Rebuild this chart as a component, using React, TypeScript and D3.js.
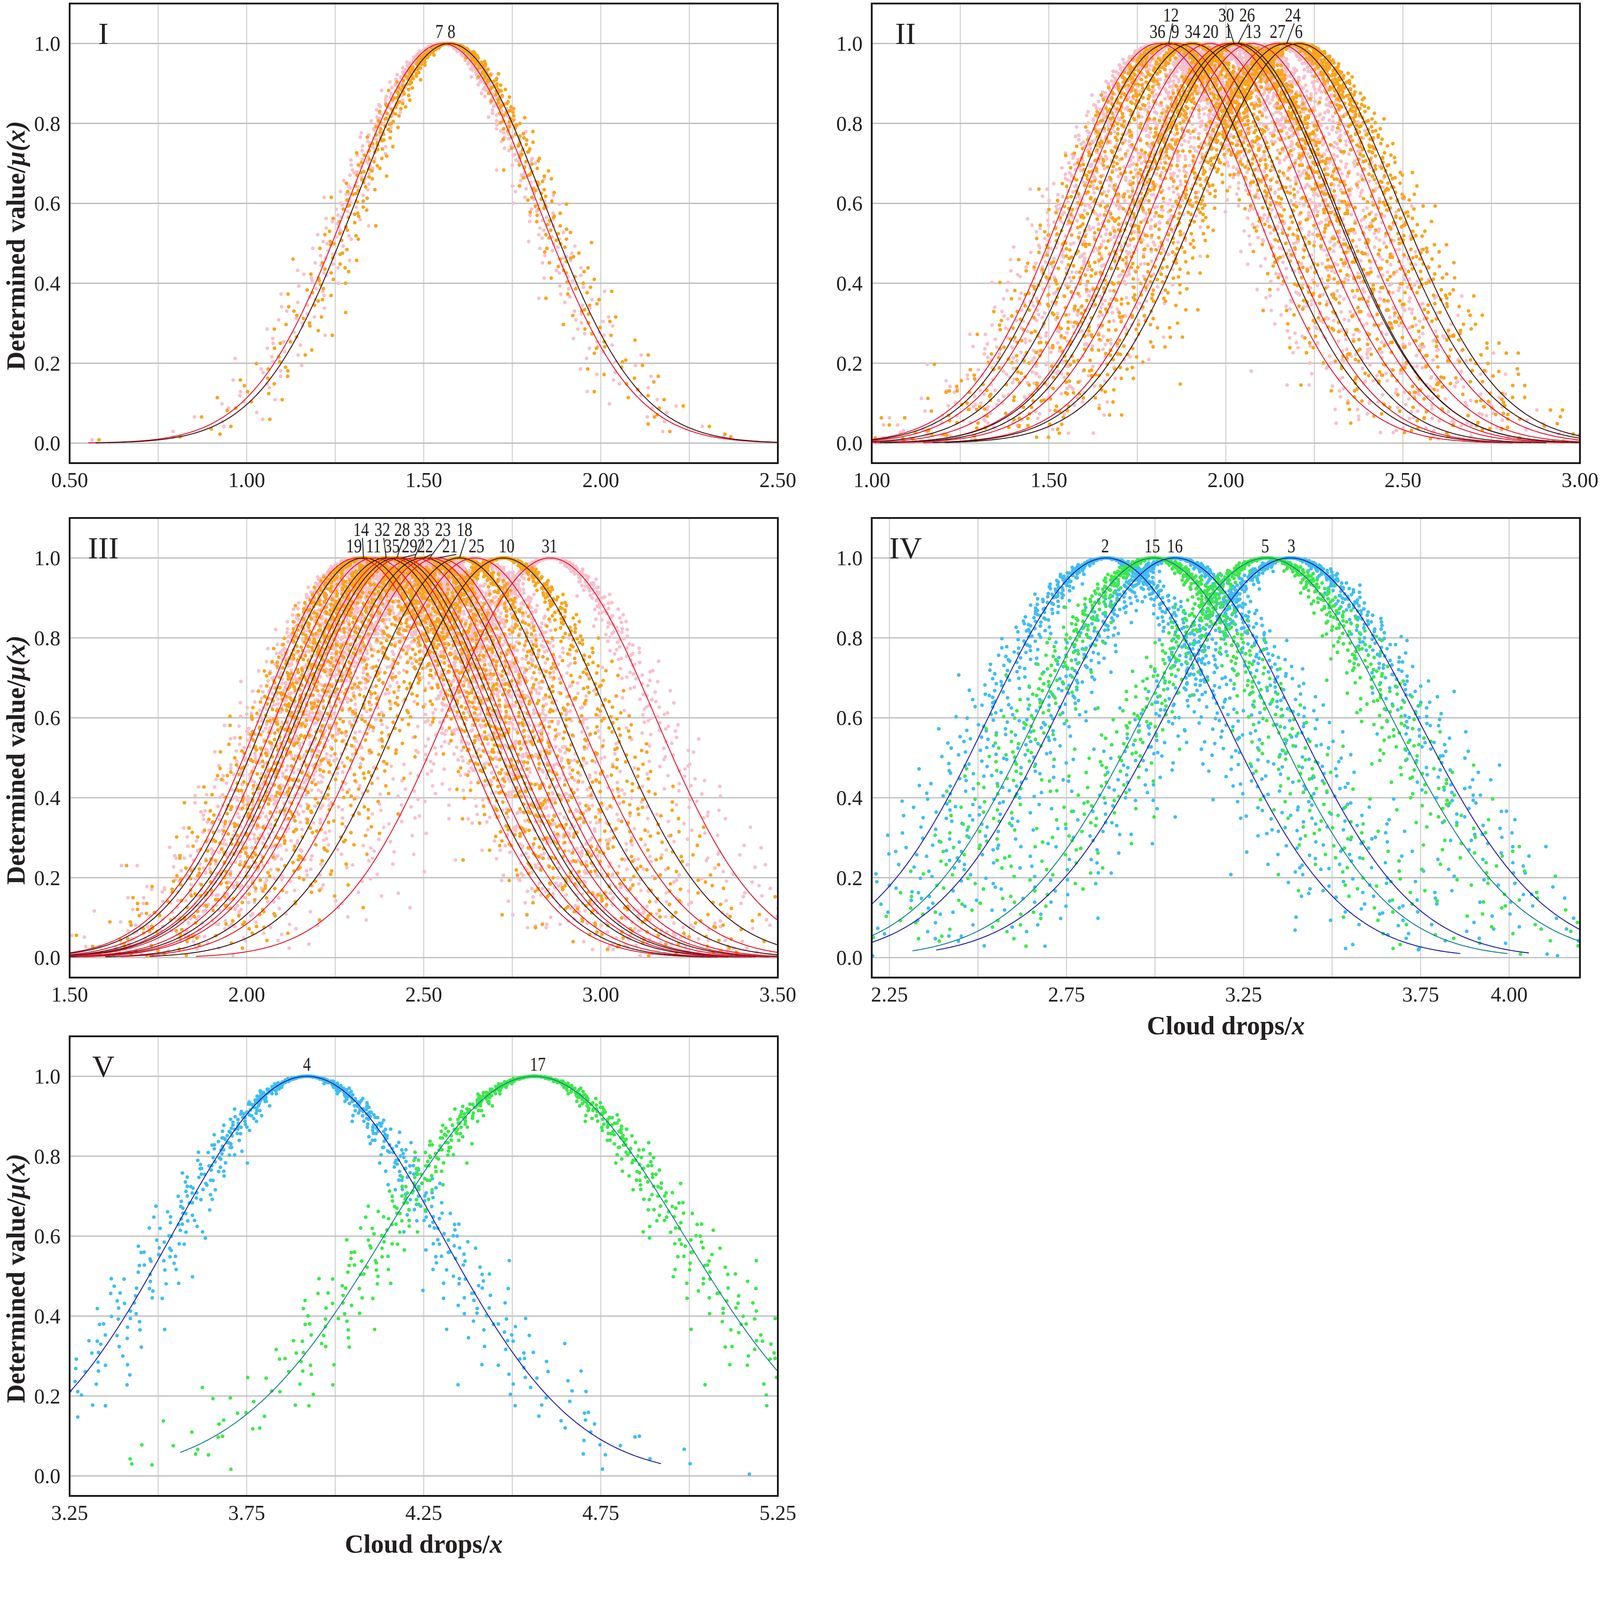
import React, { useEffect, useRef } from 'react';
import * as d3 from 'd3';

// ---- Panel I: clouds 7, 8
const p1Ids = ['7', '8'];
const p1Ex = [1.553, 1.573];
const p1En = [0.265, 0.265];
const p1He = [0.03, 0.03];
const p1Tone = ['pink', 'orange'];
const p1LabelX = [1.544, 1.578];
const p1LabelRow = [0, 0];
const p1Leader = [false, false];
const p1Ticks = [0.5, 1.0, 1.5, 2.0, 2.5];

// ---- Panel II
const p2Ids = ['36', '12', '9', '34', '20', '1', '30', '26', '13', '27', '24', '6'];
const p2Ex = [1.81, 1.839, 1.862, 1.905, 1.955, 2.005, 2.023, 2.035, 2.075, 2.145, 2.172, 2.206];
const p2En = [0.265, 0.27, 0.27, 0.27, 0.275, 0.27, 0.275, 0.27, 0.275, 0.275, 0.28, 0.28];
const p2He = [0.04, 0.04, 0.04, 0.04, 0.04, 0.04, 0.04, 0.04, 0.04, 0.04, 0.04, 0.04];
const p2Tone = ['pink', 'orange', 'pink', 'orange', 'pink', 'pink', 'orange', 'orange', 'pink', 'pink', 'orange', 'orange'];
const p2LabelX = [1.807, 1.845, 1.857, 1.906, 1.957, 2.007, 2.001, 2.06, 2.077, 2.146, 2.189, 2.206];
const p2LabelRow = [0, 1, 0, 0, 0, 0, 1, 1, 0, 0, 1, 0];
const p2Leader = [false, true, false, false, false, false, true, true, false, false, true, false];
const p2Ticks = [1.0, 1.5, 2.0, 2.5, 3.0];

// ---- Panel III
const p3Ids = ['19', '14', '11', '32', '35', '28', '29', '33', '22', '23', '21', '18', '25', '10', '31'];
const p3Ex = [2.312, 2.33, 2.36, 2.394, 2.41, 2.424, 2.437, 2.474, 2.499, 2.517, 2.54, 2.601, 2.645, 2.725, 2.857];
const p3En = [0.273, 0.275, 0.275, 0.278, 0.278, 0.28, 0.28, 0.28, 0.282, 0.282, 0.285, 0.285, 0.29, 0.295, 0.295];
const p3He = [0.042, 0.042, 0.042, 0.042, 0.042, 0.042, 0.042, 0.042, 0.042, 0.042, 0.042, 0.042, 0.042, 0.042, 0.042];
const p3Tone = ['pink', 'orange', 'pink', 'orange', 'pink', 'orange', 'pink', 'pink', 'orange', 'pink', 'pink', 'orange', 'pink', 'orange', 'pink'];
const p3LabelX = [2.303, 2.323, 2.358, 2.383, 2.41, 2.439, 2.46, 2.494, 2.504, 2.554, 2.574, 2.615, 2.649, 2.734, 2.855];
const p3LabelRow = [0, 1, 0, 1, 0, 1, 0, 1, 0, 1, 0, 1, 0, 0, 0];
const p3Leader = [false, true, false, true, false, true, true, true, true, true, true, true, false, false, false];
const p3Ticks = [1.5, 2.0, 2.5, 3.0, 3.5];

// ---- Panel IV
const p4Ids = ['2', '15', '16', '5', '3'];
const p4Ex = [2.862, 2.996, 3.056, 3.315, 3.382];
const p4En = [0.33, 0.33, 0.335, 0.35, 0.355];
const p4He = [0.055, 0.055, 0.055, 0.055, 0.055];
const p4Tone = ['blue', 'green', 'blue', 'green', 'blue'];
const p4LabelX = [2.859, 2.992, 3.056, 3.311, 3.385];
const p4LabelRow = [0, 0, 0, 0, 0];
const p4Leader = [false, false, false, false, false];
const p4Ticks = [2.25, 2.75, 3.25, 3.75, 4.0];

// ---- Panel V
const p5Ids = ['4', '17'];
const p5Ex = [3.92, 4.562];
const p5En = [0.379, 0.42];
const p5He = [0.045, 0.048];
const p5Tone = ['blue', 'green'];
const p5LabelX = [3.92, 4.572];
const p5LabelRow = [0, 0];
const p5Leader = [false, false];
const p5Ticks = [3.25, 3.75, 4.25, 4.75, 5.25];

const yTicks = [0, 0.2, 0.4, 0.6, 0.8, 1.0];
const dropCounts = [600, 600, 600, 700, 700];
// expectation curves are drawn over Ex ± this half span
const curveHalfSpan = 1.0;

const W = 4550;
const H = 4452;
const PW = 2014;
const PH = 1307;
const colX = [198, 2479];
const rowY = [10, 1473, 2947];
const FONT = '"Liberation Serif", "Times New Roman", serif';
const INK = '#231f1f';

const dropFill: Record<string, string> = {
  pink: '#F8C0CB',
  orange: '#F9A41E',
  blue: '#40BDF1',
  green: '#3DE84B',
};
const curveStroke: Record<string, string> = {
  pink: '#E3152F',
  orange: '#3A1212',
  blue: '#1C1CA6',
  green: '#16808A',
};
const toneOrder = ['pink', 'orange', 'blue', 'green'];

const panels = [
  { name: 'I', domain: [0.5, 2.5], ticks: p1Ticks, ids: p1Ids, ex: p1Ex, en: p1En, he: p1He, tone: p1Tone, labelX: p1LabelX, labelRow: p1LabelRow, leader: p1Leader, col: 0, row: 0, yTitle: true, xTitle: false },
  { name: 'II', domain: [1.0, 3.0], ticks: p2Ticks, ids: p2Ids, ex: p2Ex, en: p2En, he: p2He, tone: p2Tone, labelX: p2LabelX, labelRow: p2LabelRow, leader: p2Leader, col: 1, row: 0, yTitle: false, xTitle: false },
  { name: 'III', domain: [1.5, 3.5], ticks: p3Ticks, ids: p3Ids, ex: p3Ex, en: p3En, he: p3He, tone: p3Tone, labelX: p3LabelX, labelRow: p3LabelRow, leader: p3Leader, col: 0, row: 1, yTitle: true, xTitle: false },
  { name: 'IV', domain: [2.2, 4.2], ticks: p4Ticks, ids: p4Ids, ex: p4Ex, en: p4En, he: p4He, tone: p4Tone, labelX: p4LabelX, labelRow: p4LabelRow, leader: p4Leader, col: 1, row: 1, yTitle: false, xTitle: true },
  { name: 'V', domain: [3.25, 5.25], ticks: p5Ticks, ids: p5Ids, ex: p5Ex, en: p5En, he: p5He, tone: p5Tone, labelX: p5LabelX, labelRow: p5LabelRow, leader: p5Leader, col: 0, row: 2, yTitle: true, xTitle: true },
];

// inverse standard normal CDF (Acklam)
function invNorm(p: number): number {
  const a = [-39.69683028665376, 220.9460984245205, -275.9285104469687, 138.357751867269, -30.66479806614716, 2.506628277459239];
  const b = [-54.47609879822406, 161.5858368580409, -155.6989798598866, 66.80131188771972, -13.28068155288572];
  const c = [-0.007784894002430293, -0.3223964580411365, -2.400758277161838, -2.549732539343734, 4.374664141464968, 2.938163982698783];
  const d = [0.007784695709041462, 0.3224671290700398, 2.445134137142996, 3.754408661907416];
  const pl = 0.02425;
  if (p < pl) {
    const q = Math.sqrt(-2 * Math.log(p));
    return (((((c[0] * q + c[1]) * q + c[2]) * q + c[3]) * q + c[4]) * q + c[5]) / ((((d[0] * q + d[1]) * q + d[2]) * q + d[3]) * q + 1);
  }
  if (p > 1 - pl) {
    const q = Math.sqrt(-2 * Math.log(1 - p));
    return -(((((c[0] * q + c[1]) * q + c[2]) * q + c[3]) * q + c[4]) * q + c[5]) / ((((d[0] * q + d[1]) * q + d[2]) * q + d[3]) * q + 1);
  }
  const q = p - 0.5;
  const r = q * q;
  return ((((((a[0] * r + a[1]) * r + a[2]) * r + a[3]) * r + a[4]) * r + a[5]) * q) / (((((b[0] * r + b[1]) * r + b[2]) * r + b[3]) * r + b[4]) * r + 1);
}

// low-discrepancy (Halton) sequence, deterministic
function halton(i: number, base: number) {
  let f = 1;
  let r = 0;
  while (i > 0) {
    f /= base;
    r += f * (i % base);
    i = Math.floor(i / base);
  }
  return r;
}

// forward normal cloud generator, drops placed on a Halton sequence
function cloudDrops(ex: number, en: number, he: number, n: number, seed: number) {
  const out: { x: number; y: number }[] = [];
  for (let i = 0; i < n; i++) {
    const k = seed + i + 1;
    const z = invNorm(Math.min(0.9995, Math.max(0.0005, halton(k, 2))));
    const w = invNorm(Math.min(0.999, Math.max(0.001, halton(k, 3))));
    const enp = en + he * w;
    out.push({ x: ex + z * enp, y: Math.exp((-z * z) / 2) });
  }
  return out;
}

export default function App() {
  const svgRef = useRef<SVGSVGElement>(null);

  useEffect(() => {
    if (!svgRef.current) return;
    const svg = d3.select(svgRef.current);
    svg.selectAll('*').remove();

    svg.append('rect').attr('width', W).attr('height', H).attr('fill', '#ffffff');
    const defs = svg.append('defs');

    panels.forEach((p, pi) => {
      const left = colX[p.col];
      const top = rowY[p.row];
      const x = d3.scaleLinear().domain(p.domain).range([left, left + PW]);
      const y = d3.scaleLinear().domain([-0.05, 1.1]).range([top + PH, top]);
      const g = svg.append('g');

      defs.append('clipPath').attr('id', `clip${pi}`)
        .append('rect').attr('x', left).attr('y', top).attr('width', PW).attr('height', PH);

      // Grid lines
      const gx: number[] = [];
      for (let k = Math.ceil(p.domain[0] * 4); k <= Math.floor(p.domain[1] * 4); k++) {
        const v = k / 4;
        if (v > p.domain[0] + 1e-9 && v < p.domain[1] - 1e-9) gx.push(v);
      }
      g.append('g').selectAll('line').data(gx).join('line')
        .attr('x1', d => x(d)).attr('x2', d => x(d))
        .attr('y1', top).attr('y2', top + PH)
        .attr('stroke', '#c9c9c9').attr('stroke-width', 2.5);
      g.append('g').selectAll('line').data(yTicks).join('line')
        .attr('x1', left).attr('x2', left + PW)
        .attr('y1', d => y(d)).attr('y2', d => y(d))
        .attr('stroke', '#bdbdbd').attr('stroke-width', 3.5);

      const clouds = p.ids.map((id, i) => {
        const drops = cloudDrops(p.ex[i], p.en[i], p.he[i], dropCounts[pi], pi * 5000 + i * 211);
        return { id, i, ex: p.ex[i], en: p.en[i], tone: p.tone[i], drops };
      });
      const ordered = [...clouds].sort((a, b) => toneOrder.indexOf(a.tone) - toneOrder.indexOf(b.tone) || a.i - b.i);

      const plot = g.append('g').attr('clip-path', `url(#clip${pi})`);

      // Cloud drops
      ordered.forEach(c => {
        plot.append('g').selectAll('circle').data(c.drops).join('circle')
          .attr('cx', d => x(d.x)).attr('cy', d => y(d.y))
          .attr('r', 5.2)
          .attr('fill', dropFill[c.tone]);
      });

      // Expectation curves over Ex ± 1
      clouds.forEach(c => {
        const x0 = c.ex - curveHalfSpan;
        const x1 = c.ex + curveHalfSpan;
        const xs = d3.range(0, 401).map(k => x0 + ((x1 - x0) * k) / 400);
        const line = d3.line<number>()
          .x(v => x(v))
          .y(v => y(Math.exp(-((v - c.ex) ** 2) / (2 * c.en * c.en))));
        plot.append('path').datum(xs)
          .attr('fill', 'none')
          .attr('stroke', curveStroke[c.tone])
          .attr('stroke-width', 2.6)
          .attr('d', line);
      });

      // Frame
      g.append('rect').attr('x', left).attr('y', top).attr('width', PW).attr('height', PH)
        .attr('fill', 'none').attr('stroke', '#111').attr('stroke-width', 5);

      // Cloud labels and leaders (narrow serif numerals)
      const y1 = y(1.0);
      clouds.forEach(c => {
        const row = p.labelRow[c.i];
        const base = row === 0 ? y1 - 16 : y1 - 63;
        const lx = p.labelX[c.i];
        g.append('text')
          .attr('transform', `translate(${x(lx)},${base}) scale(0.8,1)`)
          .attr('text-anchor', 'middle')
          .attr('font-family', FONT).attr('font-size', 56)
          .attr('fill', INK)
          .text(c.id);
        if (p.leader[c.i]) {
          const sx = row === 0 ? lx + 0.018 : lx + 0.004;
          g.append('line')
            .attr('x1', x(sx)).attr('y1', base + 6)
            .attr('x2', x(c.ex)).attr('y2', y1)
            .attr('stroke', INK).attr('stroke-width', 2.6);
        }
      });

      // Tick labels
      const fx = d3.format('.2f');
      const fy = d3.format('.1f');
      g.append('g').selectAll('text').data(p.ticks).join('text')
        .attr('x', d => x(d)).attr('y', top + PH + 68)
        .attr('text-anchor', 'middle')
        .attr('font-family', FONT).attr('font-size', 60).attr('fill', INK)
        .text(d => fx(d));
      g.append('g').selectAll('text').data(yTicks).join('text')
        .attr('x', left - 26).attr('y', d => y(d))
        .attr('dy', '0.35em')
        .attr('text-anchor', 'end')
        .attr('font-family', FONT).attr('font-size', 60).attr('fill', INK)
        .text(d => fy(d));

      // Panel numeral
      g.append('text')
        .attr('x', left + 96).attr('y', top + 114)
        .attr('text-anchor', 'middle')
        .attr('font-family', FONT).attr('font-size', 88).attr('fill', INK)
        .text(p.name);

      if (p.yTitle) {
        const t = g.append('text')
          .attr('transform', `translate(70,${top + PH / 2 + 35}) rotate(-90)`)
          .attr('text-anchor', 'middle')
          .attr('font-family', FONT).attr('font-size', 74).attr('font-weight', 'bold')
          .attr('fill', INK);
        t.append('tspan').text('Determined value/');
        t.append('tspan').attr('font-style', 'italic').text('μ(x)');
      }
      if (p.xTitle) {
        const t = g.append('text')
          .attr('x', left + PW / 2).attr('y', top + PH + 162)
          .attr('text-anchor', 'middle')
          .attr('font-family', FONT).attr('font-size', 74).attr('font-weight', 'bold')
          .attr('fill', INK);
        t.append('tspan').text('Cloud drops/');
        t.append('tspan').attr('font-style', 'italic').text('x');
      }
    });
  }, []);

  return (
    <svg
      ref={svgRef}
      viewBox={`0 0 ${W} ${H}`}
      preserveAspectRatio="xMinYMin meet"
      style={{ position: 'absolute', left: 0, top: 0, width: '100vw', height: '100vh', display: 'block', background: '#fff' }}
    />
  );
}
